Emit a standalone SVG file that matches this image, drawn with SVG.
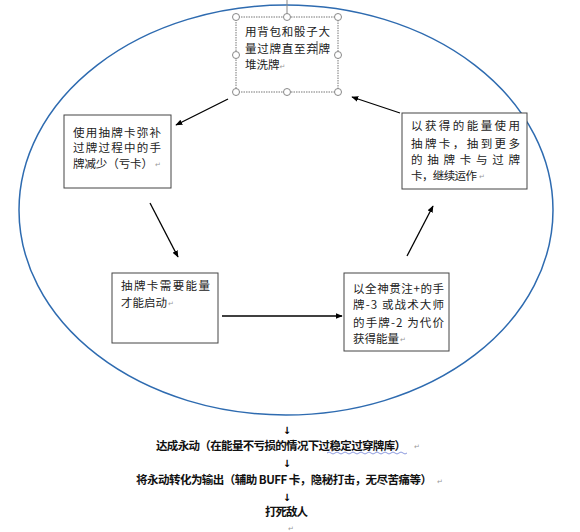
<svg xmlns="http://www.w3.org/2000/svg" width="580" height="532" viewBox="0 0 580 532">
<defs>
<marker id="ah" viewBox="0 0 10 10" refX="9" refY="5" markerWidth="7" markerHeight="7" orient="auto" markerUnits="userSpaceOnUse">
<path d="M0,1 L10,5 L0,9 Z" fill="#000"/>
</marker>
<style>
.box{fill:#fff;stroke:#444;stroke-width:1}
.t{font-family:"Noto Sans CJK SC","Noto Sans",sans-serif;font-size:11.5px;fill:#222}
.b{font-family:"Noto Sans CJK SC","Noto Sans",sans-serif;font-size:11.5px;fill:#111;font-weight:bold}
.pm{font-family:"DejaVu Sans",sans-serif;font-size:7px;fill:#999}
.ar{font-family:"DejaVu Sans",sans-serif;font-size:10px;fill:#000;font-weight:bold}
.c{stroke:#000;stroke-width:1.3;fill:none;marker-end:url(#ah)}
.h{fill:#fff;stroke:#888;stroke-width:1}
</style>
</defs>
<rect width="580" height="532" fill="#fff"/>
<ellipse cx="286" cy="210" rx="267" ry="205" fill="none" stroke="#2e6bb0" stroke-width="1.5"/>

<g id="connectors">
<line class="c" x1="228" y1="99" x2="176" y2="125"/>
<line class="c" x1="400" y1="113" x2="352" y2="97"/>
<line class="c" x1="150" y1="203" x2="178" y2="257"/>
<line class="c" x1="222" y1="316" x2="342" y2="316"/>
<line class="c" x1="407" y1="256" x2="433" y2="206"/>
</g>

<g id="node-top">
<line x1="287" y1="0" x2="287" y2="17" stroke="#888" stroke-width="1"/>
<rect x="236" y="17" width="102" height="75" fill="#fff" stroke="#777" stroke-width="1" stroke-dasharray="1.5,1"/>
<text class="t" x="245" y="36" textLength="85" lengthAdjust="spacing">用背包和骰子大</text>
<text class="t" x="245" y="52.5" textLength="85" lengthAdjust="spacing">量过牌直至弃牌</text>
<line x1="317" y1="41" x2="317" y2="55" stroke="#333" stroke-width="0.8"/>
<text class="t" x="245" y="68.5">堆洗牌<tspan class="pm">↵</tspan></text>
<circle class="h" cx="236" cy="17" r="3.5"/>
<circle class="h" cx="287" cy="17" r="3.5"/>
<circle class="h" cx="338" cy="17" r="3.5"/>
<circle class="h" cx="236" cy="55" r="3.5"/>
<circle class="h" cx="338" cy="55" r="3.5"/>
<circle class="h" cx="236" cy="92" r="3.5"/>
<circle class="h" cx="287" cy="92" r="3.5"/>
<circle class="h" cx="338" cy="92" r="3.5"/>
</g>

<g id="node-left">
<rect class="box" x="64" y="115" width="107" height="73"/>
<text class="t" x="73" y="136.5" textLength="88" lengthAdjust="spacing">使用抽牌卡弥补</text>
<text class="t" x="73" y="152" textLength="88" lengthAdjust="spacing">过牌过程中的手</text>
<text class="t" x="73" y="167.5" textLength="80" lengthAdjust="spacing">牌减少（亏卡）</text>
<text class="pm" x="155" y="167">↵</text>
</g>

<g id="node-right">
<rect class="box" x="402" y="113" width="125" height="76"/>
<text class="t" x="411" y="130" textLength="109" lengthAdjust="spacing">以获得的能量使用</text>
<text class="t" x="411" y="147.5" textLength="109" lengthAdjust="spacing">抽牌卡，抽到更多</text>
<text class="t" x="411" y="164" textLength="109" lengthAdjust="spacing">的抽牌卡与过牌</text>
<text class="t" x="411" y="180" textLength="66" lengthAdjust="spacing">卡，继续运作</text>
<text class="pm" x="479" y="179">↵</text>
</g>

<g id="node-bottom-left">
<rect class="box" x="112" y="273" width="106" height="70"/>
<text class="t" x="121" y="290" textLength="89" lengthAdjust="spacing">抽牌卡需要能量</text>
<text class="t" x="121" y="306.5">才能启动</text>
<text class="pm" x="168" y="306">↵</text>
</g>

<g id="node-bottom-right">
<rect class="box" x="344" y="273" width="105" height="78"/>
<text class="t" x="353" y="293" textLength="91" lengthAdjust="spacing">以全神贯注+的手</text>
<text class="t" x="353" y="309" textLength="91" lengthAdjust="spacing">牌-3 或战术大师</text>
<text class="t" x="353" y="326.5" textLength="91" lengthAdjust="spacing">的手牌-2 为代价</text>
<text class="t" x="353" y="343">获得能量</text>
<text class="pm" x="400" y="342">↵</text>
</g>

<g id="bottom-chain">
<text class="ar" x="287" y="434" text-anchor="middle">↓</text>
<text class="b" x="156" y="450" textLength="250" lengthAdjust="spacing">达成永动（在能量不亏损的情况下过稳定过穿牌库）</text>
<path d="M327,453 q2,-2 4,0 t4,0 t4,0 t4,0 t4,0 t4,0 t4,0 t4,0 t4,0 t4,0 t4,0 t4,0 t4,0 t4,0 t4,0 t4,0 t4,0 t4,0 t4,0 t4,0" fill="none" stroke="#5a6fd0" stroke-width="0.7"/>
<text class="pm" x="414" y="449">↵</text>
<text class="ar" x="287" y="467" text-anchor="middle">↓</text>
<text class="b" x="136" y="484" textLength="296" lengthAdjust="spacing">将永动转化为输出（辅助 BUFF 卡，隐秘打击，无尽苦痛等）</text>
<text class="pm" x="437" y="484">↵</text>
<text class="ar" x="287" y="501" text-anchor="middle">↓</text>
<text class="b" x="265" y="516" textLength="43" lengthAdjust="spacing">打死敌人</text>
<text class="pm" x="288" y="531">↵</text>
</g>
</svg>
